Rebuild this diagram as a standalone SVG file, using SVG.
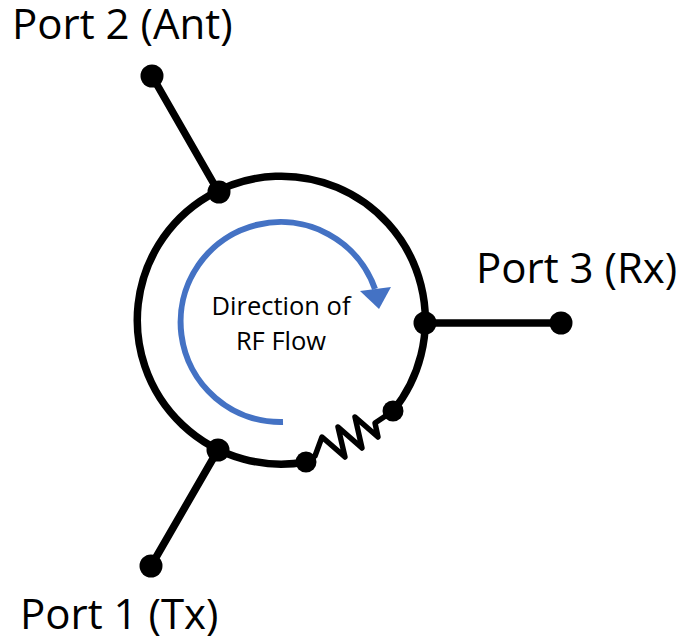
<svg xmlns="http://www.w3.org/2000/svg" width="693" height="640" viewBox="0 0 693 640">
<style>
.w{fill:none;stroke:#000;stroke-width:7.500}
.d{fill:#000}
.l{font-family:"Open Sans",sans-serif;font-size:42px;fill:#000}
.c{font-family:"Open Sans",sans-serif;font-size:25.500px;fill:#000;text-anchor:middle}
</style>
<rect width="693" height="640" fill="#fff"/>
<g id="connectors">
<path class="w" d="M393 411A144 144 0 1 0 306 462"/>
<path class="w" d="M152 76L218 191M425 323H561M218 450L151 566"/>
<path fill="none" stroke="#000" stroke-width="5.500" stroke-linejoin="round" d="M306 462L315 456L322 437L345 457L338 427L362 448L355 417L378 437L375 423L393 411"/>
</g>
<g id="flow">
<path fill="none" stroke="#4472c4" stroke-width="6" d="M283 422A100 100 0 1 1 375 289"/>
<polygon fill="#4472c4" points="360,291 391,287 379,309"/>
<text class="c" x="281" y="315">Direction of</text>
<text class="c" x="281" y="350">RF Flow</text>
</g>
<g id="port2"><circle class="d" cx="152" cy="76" r="11.500"/><text class="l" x="12" y="39">Port 2 (Ant)</text></g>
<g id="junction2"><circle class="d" cx="219" cy="192" r="11.500"/></g>
<g id="port3"><circle class="d" cx="561" cy="323" r="11.500"/><text class="l" x="476" y="283">Port 3 (Rx)</text></g>
<g id="junction3"><circle class="d" cx="425" cy="323" r="11.500"/></g>
<g id="port1"><circle class="d" cx="151" cy="566" r="11.500"/><text class="l" x="20" y="629">Port 1 (Tx)</text></g>
<g id="junction1"><circle class="d" cx="218" cy="450" r="11.500"/></g>
<g id="res-a"><circle class="d" cx="306" cy="462" r="10.500"/></g>
<g id="res-b"><circle class="d" cx="393" cy="411" r="10.500"/></g>
</svg>
